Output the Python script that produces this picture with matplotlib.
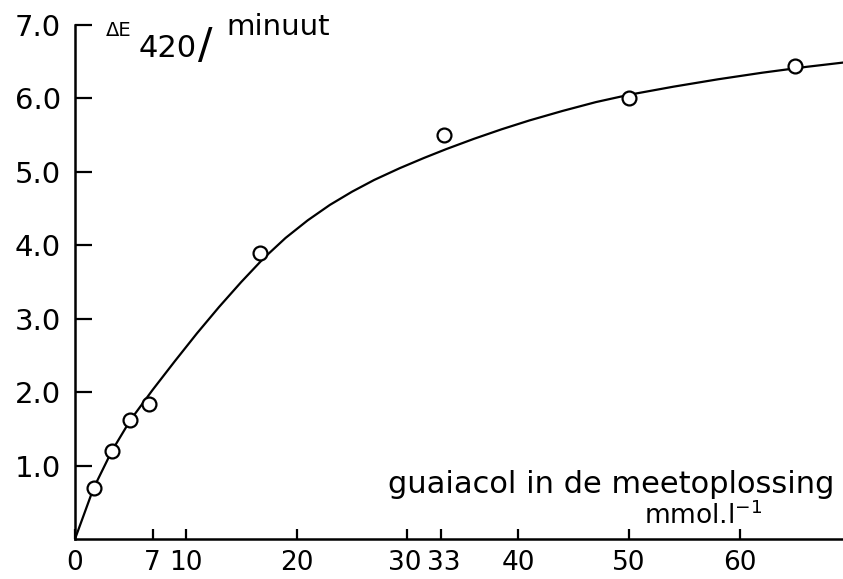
import matplotlib
matplotlib.use('Agg')
import matplotlib.pyplot as plt
import matplotlib.transforms as mtrans

# measured points (guaiacol concentration, mmol/l  vs  dE420 per minute)
conc = [1.67, 3.33, 5.0, 6.67, 16.7, 33.3, 50.0, 65.0]
rate = [0.69, 1.20, 1.62, 1.84, 3.90, 5.50, 6.01, 6.44]

# hand-drawn curve
curve_x = [0, 1.67, 3.33, 5.0, 7.0, 9.0, 11.0, 13.0, 15.0, 17.0, 19.0,
           21.0, 23.0, 25.0, 27.0, 29.3, 31.5, 33.5, 36.0, 38.5, 41.0,
           44.0, 47.0, 50.0, 54.0, 58.0, 62.0, 66.0, 69.4]
curve_y = [0, 0.69, 1.20, 1.62, 2.03, 2.42, 2.80, 3.16, 3.50, 3.82, 4.10,
           4.34, 4.55, 4.73, 4.89, 5.05, 5.19, 5.31, 5.45, 5.58, 5.70,
           5.83, 5.95, 6.05, 6.16, 6.26, 6.35, 6.43, 6.49]

xticks = [0, 7, 10, 20, 30, 33, 40, 50, 60]
yticks = [1.0, 2.0, 3.0, 4.0, 5.0, 6.0, 7.0]

W, H = 843, 579
plt.rcParams['font.family'] = 'DejaVu Sans'

fig = plt.figure(figsize=(W / 100, H / 100), dpi=100)
ax = fig.add_axes([75 / W, 40 / H, (W - 75) / W, (539 - 25) / H])

ax.plot(curve_x, curve_y, color='k', lw=1.6, zorder=2, solid_joinstyle='round')
ax.plot(conc, rate, 'o', ms=10, mfc='white', mec='k', mew=1.6, zorder=3)

ax.set_xlim(0, 69.3)
ax.set_ylim(0, 7.0)
ax.spines['top'].set_visible(False)
ax.spines['right'].set_visible(False)
for s in ['left', 'bottom']:
    ax.spines[s].set_linewidth(1.8)
    ax.spines[s].set_clip_on(False)

ax.set_xticks(xticks)
ax.set_xticklabels([str(t) for t in xticks])
ax.set_yticks(yticks)
ax.set_yticklabels(['%.1f' % t for t in yticks])
ax.tick_params(axis='y', direction='in', length=12, width=1.6, pad=10,
               labelsize=21)
ax.tick_params(axis='x', direction='in', length=7, width=1.6, pad=8,
               labelsize=19)

# pull "30" and "33" apart a little, like in the original
for lab in ax.get_xticklabels():
    shift = {'30': -3, '33': 3}.get(lab.get_text(), 0)
    if shift:
        lab.set_transform(lab.get_transform() +
                          mtrans.ScaledTranslation(shift / 100, 0, fig.dpi_scale_trans))

# y-axis title at the top
fig.text(106 / W, 1 - 36 / H, '\u0394E', fontsize=14, ha='left', va='baseline')
fig.text(139 / W, 1 - 57 / H, '420', fontsize=22, ha='left', va='baseline')
fig.text(198 / W, 1 - 58 / H, '/', fontsize=31, ha='left', va='baseline')
fig.text(226 / W, 1 - 35 / H, 'minuut', fontsize=21, ha='left', va='baseline')

# x-axis title on the right
fig.text(834 / W, 1 - 493 / H, 'guaiacol in de meetoplossing', fontsize=22,
         ha='right', va='baseline')
fig.text(762 / W, 1 - 524 / H, 'mmol.l$^{-1}$', fontsize=19,
         ha='right', va='baseline')

fig.savefig('out.png', dpi=100)
